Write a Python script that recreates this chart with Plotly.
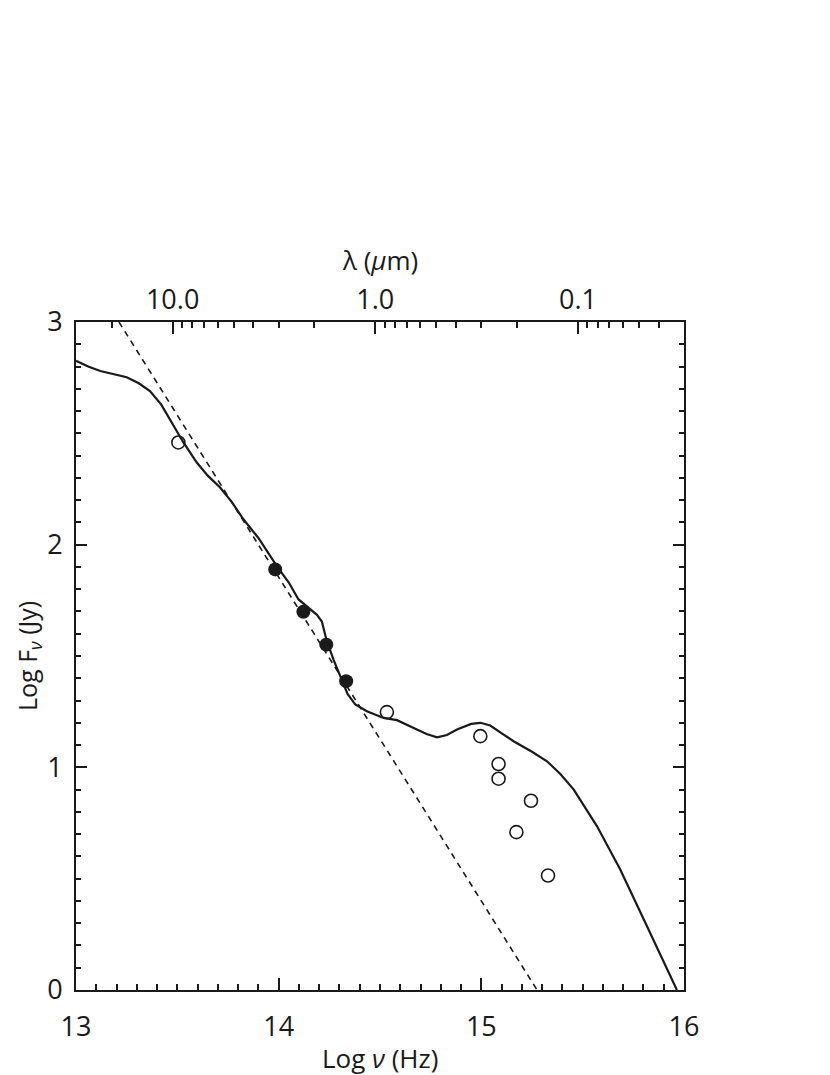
import numpy as np
import plotly.graph_objects as go

# Model SED (solid curve), log nu vs log F_nu
model_lognu = [13.0, 13.06, 13.12, 13.184, 13.25, 13.31, 13.365, 13.42, 13.464, 13.53,
               13.596, 13.65, 13.711, 13.77, 13.826, 13.9, 13.991, 14.05, 14.098,
               14.15, 14.189, 14.213, 14.235, 14.27, 14.304, 14.34, 14.378, 14.435,
               14.518, 14.584, 14.666, 14.73, 14.781, 14.83, 14.88, 14.95, 14.995,
               15.044, 15.11, 15.159, 15.25, 15.324, 15.39, 15.456, 15.571, 15.686,
               15.818, 15.965]
model_logf = [2.826, 2.80, 2.78, 2.766, 2.752, 2.725, 2.69, 2.63, 2.564, 2.459,
              2.369, 2.31, 2.257, 2.19, 2.114, 2.03, 1.904, 1.83, 1.754,
              1.715, 1.685, 1.655, 1.575, 1.485, 1.41, 1.33, 1.282, 1.252,
              1.222, 1.212, 1.177, 1.15, 1.135, 1.145, 1.17, 1.195, 1.2,
              1.188, 1.147, 1.117, 1.07, 1.027, 0.97, 0.9, 0.735, 0.54,
              0.285, 0.0]

# Power-law fit (dashed line)
fit_lognu = [13.212, 15.275]
fit_logf = [3.0, 0.0]

# Photometry
open_lognu = [13.505, 14.534, 14.995, 15.085, 15.085, 15.245, 15.173, 15.329]
open_logf = [2.459, 1.248, 1.14, 1.015, 0.949, 0.85, 0.709, 0.514]
filled_lognu = [13.983, 14.122, 14.235, 14.333]
filled_logf = [1.889, 1.699, 1.551, 1.387]

# Top axis: wavelength in micron
lam_major = [10.0, 1.0, 0.1]
lam_major_text = ["10.0", "1.0", "0.1"]
lam_minor = [20, 9, 8, 7, 6, 5, 4, 3, 2, 0.9, 0.8, 0.7, 0.6, 0.5, 0.4, 0.3, 0.2,
             0.09, 0.08, 0.07, 0.06, 0.05, 0.04]

LOG_C_UM = np.log10(2.998e14)  # c in micron/s


def lam_to_lognu(lam):
    return [LOG_C_UM - np.log10(v) for v in lam]


FONT = "Open Sans"
INK = "#1a1a1a"

fig = go.Figure()

fig.add_trace(go.Scatter(x=fit_lognu, y=fit_logf, mode="lines",
                         line=dict(color=INK, width=1.6, dash="6px,5px"),
                         showlegend=False))
fig.add_trace(go.Scatter(x=model_lognu, y=model_logf, mode="lines",
                         line=dict(color=INK, width=2.2),
                         showlegend=False))
fig.add_trace(go.Scatter(x=open_lognu, y=open_logf, mode="markers",
                         marker=dict(symbol="circle-open", size=13, color=INK,
                                     line=dict(width=1.6, color=INK)),
                         showlegend=False))
fig.add_trace(go.Scatter(x=filled_lognu, y=filled_logf, mode="markers",
                         marker=dict(symbol="circle", size=14, color=INK),
                         showlegend=False))
# invisible trace to hold the top axis
fig.add_trace(go.Scatter(x=[13, 16], y=[0, 0], xaxis="x2", mode="markers",
                         marker=dict(opacity=0), hoverinfo="skip", showlegend=False))

axis_common = dict(showline=True, linecolor=INK, linewidth=2, ticks="inside",
                   tickcolor=INK, tickwidth=1.5, showgrid=False, zeroline=False,
                   automargin=False,
                   tickfont=dict(family=FONT, size=27, color=INK))

title_font = dict(family=FONT, size=26, color=INK)

# the page body adds an 8px offset, so the margins are shifted to compensate
fig.update_layout(
    width=830, height=1075,
    margin=dict(l=68, r=154, t=314, b=93),
    plot_bgcolor="white", paper_bgcolor="white",
    xaxis=dict(range=[13, 16], tickmode="array", tickvals=[13, 14, 15, 16],
               ticklen=12, ticklabelstandoff=12,
               minor=dict(dtick=0.1, tick0=13, ticks="inside", ticklen=6,
                          tickcolor=INK, tickwidth=1.5, showgrid=False),
               **axis_common),
    xaxis2=dict(range=[13, 16], overlaying="x", side="top", anchor="y",
                tickmode="array", tickvals=lam_to_lognu(lam_major),
                ticktext=lam_major_text, ticklen=12, ticklabelstandoff=0,
                minor=dict(tickmode="array", tickvals=lam_to_lognu(lam_minor),
                           ticks="inside", ticklen=6, tickcolor=INK,
                           tickwidth=1.5, showgrid=False),
                **axis_common),
    yaxis=dict(range=[0, 3], tickmode="array", tickvals=[0, 1, 2, 3],
               ticklen=11, ticklabelstandoff=6, mirror="ticks",
               minor=dict(dtick=0.1, tick0=0, ticks="inside", ticklen=5,
                          tickcolor=INK, tickwidth=1.5, showgrid=False),
               **axis_common),
    annotations=[
        dict(text="Log <i>ν</i> (Hz)", x=0.5, y=0, xref="paper", yref="paper",
             yanchor="middle", yshift=-68, showarrow=False, font=title_font),
        dict(text="λ (<i>μ</i>m)", x=0.5, y=1, xref="paper", yref="paper",
             yanchor="middle", yshift=62, showarrow=False, font=title_font),
        dict(text="Log F<sub><i>ν</i></sub> (Jy)", x=0, y=0.5, xref="paper",
             yref="paper", xanchor="center", xshift=-48, textangle=-90,
             showarrow=False, font=dict(family=FONT, size=25, color=INK)),
    ],
)

fig.write_html("out.html")
